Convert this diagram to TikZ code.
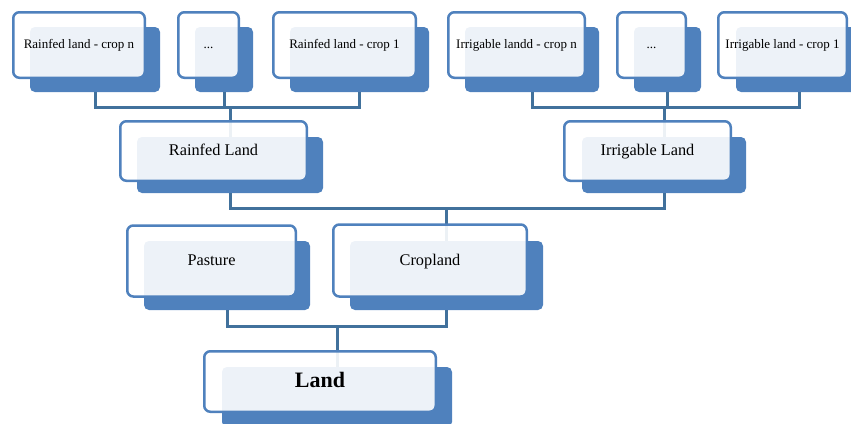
\documentclass[tikz,border=0pt]{standalone}
\usepackage{fontspec}
\setmainfont{Liberation Serif}
\definecolor{obl}{HTML}{4F81BD}
\definecolor{conn}{HTML}{41719C}
\begin{document}
\begin{tikzpicture}[x=1pt,y=-1pt,
  shadowbox/.style={fill=obl, rounded corners=5pt, inner sep=0pt, outer sep=0pt},
  frontbox/.style={draw=obl, line width=2.5pt, fill=white, fill opacity=0.9, text opacity=1, rounded corners=6pt, inner sep=0pt, outer sep=0pt},
  small/.style={font=\fontsize{13}{15}\selectfont, text height=0.75em, text depth=0.1em},
  mid/.style={font=\fontsize{16.3}{19}\selectfont, text height=0.95em, text depth=0pt},
  big/.style={font=\fontsize{22}{26}\selectfont\bfseries, text height=1.22em, text depth=0pt},
  link/.style={draw=conn, line width=3pt}]
\useasboundingbox (0,0) rectangle (851,423);
\clip (0,0) rectangle (851,423);
% shadows
\node[shadowbox, minimum width=130pt, minimum height=65pt] (rcn-s) at (95,59.5) {};
\node[shadowbox, minimum width=58pt, minimum height=65pt] (rdots-s) at (224,59.5) {};
\node[shadowbox, minimum width=139pt, minimum height=65pt] (rc1-s) at (359.5,59.5) {};
\node[shadowbox, minimum width=134pt, minimum height=65pt] (icn-s) at (532,59.5) {};
\node[shadowbox, minimum width=67pt, minimum height=65pt] (idots-s) at (667.5,59.5) {};
\node[shadowbox, minimum width=126pt, minimum height=65pt] (ic1-s) at (799,59.5) {};
\node[shadowbox, minimum width=186pt, minimum height=56pt] (rl-s) at (230,165) {};
\node[shadowbox, minimum width=164pt, minimum height=56pt] (il-s) at (664,165) {};
\node[shadowbox, minimum width=166pt, minimum height=69pt] (pa-s) at (227,275.5) {};
\node[shadowbox, minimum width=193pt, minimum height=69pt] (cl-s) at (446.5,275.5) {};
\node[shadowbox, minimum width=230pt, minimum height=60pt] (la-s) at (337,397) {};
% connectors
\draw[link] (rcn-s.south) -- ++(0,15) -| (rl-s.north);
\draw[link] (rdots-s.south) -- ++(0,15) -| (rl-s.north);
\draw[link] (rc1-s.south) -- ++(0,15) -| (rl-s.north);
\draw[link] (icn-s.south) -- ++(0,15) -| (il-s.north);
\draw[link] (idots-s.south) -- ++(0,15) -| (il-s.north);
\draw[link] (ic1-s.south) -- ++(0,15) -| (il-s.north);
\draw[link] (rl-s.south) -- ++(0,15) -| (cl-s.north);
\draw[link] (il-s.south) -- ++(0,15) -| (cl-s.north);
\draw[link] (pa-s.south) -- ++(0,16) -| (la-s.north);
\draw[link] (cl-s.south) -- ++(0,16) -| (la-s.north);
% front boxes
\node[frontbox, small, minimum width=131.5pt, minimum height=65.5pt] (rcn) at (79,45) {Rainfed land - crop n};
\node[frontbox, small, minimum width=60.5pt, minimum height=65.5pt] (rdots) at (208.5,45) {...};
\node[frontbox, small, minimum width=142.5pt, minimum height=65.5pt] (rc1) at (344.5,45) {Rainfed land - crop 1};
\node[frontbox, small, minimum width=136.5pt, minimum height=65.5pt] (icn) at (516.5,45) {Irrigable landd - crop n};
\node[frontbox, small, minimum width=68.5pt, minimum height=65.5pt] (idots) at (651.5,45) {...};
\node[frontbox, small, minimum width=128.5pt, minimum height=65.5pt] (ic1) at (782.5,45) {Irrigable land - crop 1};
\node[frontbox, mid, minimum width=186.5pt, minimum height=59.5pt] (rl) at (213.5,151) {Rainfed Land};
\node[frontbox, mid, minimum width=166.5pt, minimum height=59.5pt] (il) at (647.5,151) {Irrigable Land};
\node[frontbox, mid, minimum width=168.5pt, minimum height=71pt] (pa) at (211.5,261) {Pasture};
\node[frontbox, mid, minimum width=193.5pt, minimum height=72pt] (cl) at (430,260.5) {Cropland};
\node[frontbox, big, minimum width=231.5pt, minimum height=60.5pt] (la) at (320,381.5) {Land};
\end{tikzpicture}
\end{document}
